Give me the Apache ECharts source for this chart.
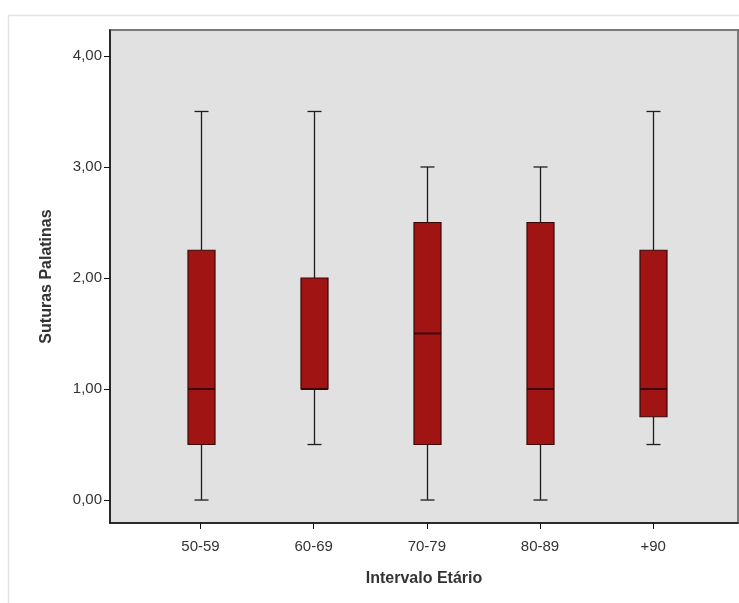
<!DOCTYPE html>
<html>
<head>
<meta charset="utf-8">
<script src="https://cdn.jsdelivr.net/npm/echarts@6/dist/echarts.min.js"></script>
<style>
	html, body { margin: 0; padding: 0; background: #fff; }
	#chart { width: 739px; height: 603px; }
</style>
</head>
<body>
<div id="chart"></div>
<script>
	// faixas etarias
	var categories = ['50-59', '60-69', '70-79', '80-89', '+90'];
	// min, Q1, mediana, Q3, max
	var mins    = [0,    0.5, 0,   0,   0.5];
	var q1s     = [0.5,  1.0, 0.5, 0.5, 0.75];
	var medians = [1.0,  1.0, 1.5, 1.0, 1.0];
	var q3s     = [2.25, 2.0, 2.5, 2.5, 2.25];
	var maxs    = [3.5,  3.5, 3.0, 3.0, 3.5];
	var yTicks = [0, 1, 2, 3, 4];
	var xTicks = [0, 1, 2, 3, 4];

	var boxData = [];
	for (var i = 0; i < categories.length; i++) {
		boxData.push([i, mins[i], q1s[i], medians[i], q3s[i], maxs[i]]);
	}

	var chart = echarts.init(document.getElementById('chart'));

	function renderBox(params, api) {
		var x = api.value(0);
		var pMin = api.coord([x, api.value(1)]);
		var pQ1 = api.coord([x, api.value(2)]);
		var pMed = api.coord([x, api.value(3)]);
		var pQ3 = api.coord([x, api.value(4)]);
		var pMax = api.coord([x, api.value(5)]);
		var half = 13.5;
		var cap = 7;
		var cx = Math.round(pMed[0]) + 0.5;
		var lineStyle = { stroke: '#1e1e1e', lineWidth: 1.3 };
		return {
			type: 'group',
			children: [
				{ type: 'line', shape: { x1: cx, y1: pMax[1], x2: cx, y2: pQ3[1] }, style: lineStyle },
				{ type: 'line', shape: { x1: cx, y1: pQ1[1], x2: cx, y2: pMin[1] }, style: lineStyle },
				{ type: 'line', shape: { x1: cx - cap, y1: pMax[1], x2: cx + cap, y2: pMax[1] }, style: lineStyle },
				{ type: 'line', shape: { x1: cx - cap, y1: pMin[1], x2: cx + cap, y2: pMin[1] }, style: lineStyle },
				{
					type: 'rect',
					shape: { x: cx - half, y: pQ3[1], width: half * 2, height: pQ1[1] - pQ3[1] },
					style: { fill: '#a11414', stroke: '#3a0707', lineWidth: 1.2 }
				},
				{ type: 'line', shape: { x1: cx - half, y1: pMed[1], x2: cx + half, y2: pMed[1] }, style: { stroke: '#3a0707', lineWidth: 2 } }
			]
		};
	}

	var option = {
		backgroundColor: '#ffffff',
		animation: false,
		graphic: [
			{ type: 'line', shape: { x1: 8, y1: 15.5, x2: 739, y2: 15.5 }, style: { stroke: '#e4e4e4', lineWidth: 1.5 } },
			{ type: 'line', shape: { x1: 8.5, y1: 15, x2: 8.5, y2: 603 }, style: { stroke: '#e4e4e4', lineWidth: 1.5 } }
		],
		grid: {
			left: 110, top: 30, right: 1, bottom: 80,
			show: true,
			backgroundColor: '#e1e1e1',
			borderColor: '#7a7a7a',
			borderWidth: 2
		},
		xAxis: {
			type: 'value',
			min: -0.8,
			max: 4.75,
			axisLine: { show: true, onZero: false, lineStyle: { color: '#111', width: 1.5 } },
			axisTick: { show: true, length: 6, customValues: xTicks, lineStyle: { color: '#111' } },
			axisLabel: {
				customValues: xTicks,
				margin: 16,
				color: '#333',
				fontFamily: 'Liberation Sans, Arial, sans-serif',
				fontSize: 15,
				formatter: function (v) { return categories[Math.round(v)]; }
			},
			splitLine: { show: false },
			name: 'Intervalo Etário',
			nameLocation: 'middle',
			nameGap: 48,
			nameTextStyle: { color: '#333', fontWeight: 'bold', fontSize: 16, fontFamily: 'Liberation Sans, Arial, sans-serif' }
		},
		yAxis: {
			type: 'value',
			min: -0.207,
			max: 4.234,
			axisLine: { show: true, onZero: false, lineStyle: { color: '#111', width: 1.5 } },
			axisTick: { show: true, length: 6, customValues: yTicks, lineStyle: { color: '#111' } },
			axisLabel: {
				customValues: yTicks,
				margin: 8,
				color: '#333',
				fontFamily: 'Liberation Sans, Arial, sans-serif',
				fontSize: 15,
				formatter: function (v) { return v.toFixed(2).replace('.', ','); }
			},
			splitLine: { show: false },
			name: 'Suturas Palatinas',
			nameLocation: 'middle',
			nameGap: 55,
			nameTextStyle: { color: '#333', fontWeight: 'bold', fontSize: 16, fontFamily: 'Liberation Sans, Arial, sans-serif' }
		},
		series: [
			{
				type: 'custom',
				renderItem: renderBox,
				encode: { x: 0, y: [1, 2, 3, 4, 5] },
				data: boxData
			}
		]
	};

	chart.setOption(option);
</script>
</body>
</html>
